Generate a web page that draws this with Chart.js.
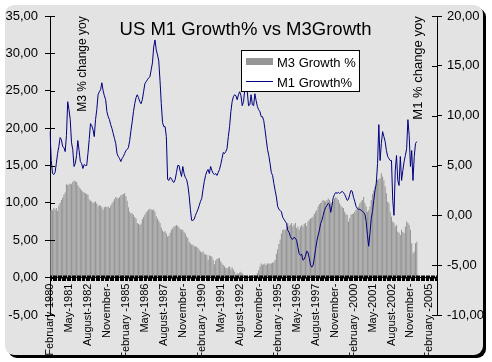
<!DOCTYPE html>
<html>
<head>
<meta charset="utf-8">
<script src="https://cdn.jsdelivr.net/npm/chart.js@4.4.1/dist/chart.umd.min.js"></script>
<style>
  html, body { margin: 0; padding: 0; background: #fff; }
  canvas { display: block; }
</style>
</head>
<body>
<canvas id="chart" width="492" height="362"></canvas>
<script>
const MONTH_NAMES = ['January', 'February', 'March', 'April', 'May', 'June', 'July',
  'August', 'September', 'October', 'November', 'December'];

// monthly categories, February 1980 .. August 2005
const categories = [];
for (let k = 0; k < 307; k++) {
  categories.push(MONTH_NAMES[(1 + k) % 12] + '-' + (1980 + Math.floor((1 + k) / 12)));
}

// one label every 15 months
const tickLabels = [
  'February-1980', 'May-1981', 'August-1982', 'November-', 'February -1985',
  'May-1986', 'August-1987', 'November-', 'February -1990', 'May-1991',
  'August-1992', 'November-', 'February -1995', 'May-1996', 'August-1997',
  'November-', 'February -2000', 'May-2001', 'August-2002', 'November-',
  'February -2005'
];

// M3 growth %, left axis
const m3Growth = [
  9.0, 9.1, 9.0, 9.3, 9.1, 9.3, 8.9, 9.6, 10.0, 10.4,
  10.7, 11.1, 11.4, 12.5, 12.4, 12.5, 12.6, 12.5, 12.8, 13.0,
  12.9, 12.8, 12.4, 12.1, 11.9, 11.7, 11.5, 11.4, 11.3, 11.2,
  11.1, 10.5, 10.3, 10.2, 10.0, 10.1, 10.2, 9.9, 9.5, 9.7,
  9.6, 9.4, 9.1, 9.4, 9.5, 9.4, 9.5, 9.3, 9.6, 9.9,
  10.2, 10.5, 10.8, 10.7, 10.6, 10.8, 11.0, 11.1, 11.2, 11.3,
  10.9, 10.3, 9.4, 8.8, 8.6, 8.6, 8.4, 8.1, 7.9, 7.3,
  7.2, 7.05, 7.2, 7.8, 8.1, 8.4, 8.7, 8.9, 9.1, 9.2,
  9.1, 9.05, 9.1, 8.8, 8.2, 7.9, 7.6, 7.3, 6.7, 6.3,
  6.1, 6.2, 5.9, 5.5, 5.6, 6.0, 6.4, 6.6, 6.8, 6.9,
  7.05, 6.9, 6.7, 6.5, 6.4, 6.4, 6.1, 5.9, 5.5, 5.3,
  4.8, 4.6, 4.4, 4.4, 4.2, 4.2, 4.1, 3.95, 3.7, 3.5,
  3.35, 3.5, 3.2, 3.1, 3.05, 2.4, 3.0, 2.9, 2.8, 2.4,
  1.8, 2.3, 2.5, 2.6, 2.6, 2.2, 1.9, 1.7, 1.5, 1.3,
  1.25, 1.4, 1.5, 1.1, 1.4, 1.1, 0.8, 0.4, 0.6, 0.5,
  0.7, 0.8, 0.6, 0.35, 0.15, -0.3, 0.1, 0.15, -0.05, 0.25,
  0.3, 0.35, 0.35, 0.25, 0.6, 1.0, 1.5, 1.9, 1.7, 1.8,
  1.9, 1.7, 1.9, 1.9, 1.9, 1.9, 2.0, 2.1, 2.35, 3.2,
  3.8, 4.5, 5.1, 5.9, 6.4, 6.4, 6.4, 6.85, 7.3, 6.9,
  7.1, 7.3, 6.85, 7.1, 7.3, 6.6, 6.85, 6.4, 6.8, 7.05,
  6.85, 7.2, 7.3, 6.9, 7.5, 7.75, 7.9, 8.0, 8.15, 8.5,
  8.8, 9.05, 9.5, 9.8, 10.0, 10.2, 10.4, 10.3, 10.2, 10.4,
  10.6, 10.4, 10.1, 9.95, 10.2, 10.6, 10.8, 10.6, 10.4, 9.95,
  9.6, 9.4, 9.3, 8.8, 8.5, 8.4, 7.5, 7.95, 8.4, 8.5,
  8.6, 8.8, 9.1, 9.3, 9.5, 9.95, 10.2, 10.4, 10.8, 9.95,
  9.5, 8.8, 9.0, 9.5, 10.4, 11.2, 11.7, 12.2, 12.85, 13.05,
  13.2, 13.3, 13.95, 13.5, 13.0, 12.2, 11.3, 10.2, 9.95, 8.8,
  8.15, 7.5, 7.3, 6.85, 7.05, 6.15, 6.0, 5.7, 6.4, 6.1,
  5.95, 6.8, 7.5, 7.3, 7.05, 6.4, 4.6, 3.25, 3.5, 4.6,
  4.8
];

// M1 growth %, right axis
const m1Growth = [
  8.4, 5.5, 4.2, 4.1, 4.3, 5.2, 6.2, 6.9, 7.8, 7.6,
  6.9, 6.8, 6.4, 8.0, 11.4, 10.6, 9.6, 7.3, 6.6, 4.9,
  5.2, 6.0, 7.5, 6.5, 5.4, 5.2, 4.7, 5.1, 5.0, 5.0,
  6.2, 7.6, 9.2, 9.0, 8.6, 7.9, 9.6, 10.6, 12.1, 12.4,
  12.6, 13.3, 12.5, 12.0, 11.6, 10.4, 9.9, 9.6, 9.1, 8.7,
  8.2, 7.7, 7.2, 6.2, 5.9, 5.7, 5.4, 5.7, 5.9, 6.2,
  6.5, 6.6, 6.8, 7.5, 8.5, 9.4, 10.4, 11.2, 11.8, 12.1,
  11.8, 11.4, 11.2, 11.6, 12.4, 13.2, 13.4, 13.6, 13.8, 13.9,
  14.6, 15.3, 16.9, 17.6, 16.6, 16.1, 15.5, 13.5, 11.2, 9.3,
  8.9, 8.9, 7.9, 3.6, 3.5, 3.8, 3.7, 3.4, 3.3, 3.6,
  4.3, 5.0, 5.0, 4.4, 3.9, 4.9, 4.2, 3.8, 3.6, 3.0,
  2.0, 0.6, -0.5, -0.5, -0.4, 0.0, 0.3, 0.6, 1.0, 1.4,
  1.7, 2.6, 3.4, 4.0, 4.4, 4.6, 4.2, 4.9, 4.5, 4.2,
  4.1, 4.2, 4.0, 4.3, 4.6, 5.1, 5.7, 6.3, 6.2, 6.4,
  6.7, 7.9, 8.9, 10.4, 11.4, 11.9, 12.1, 12.0, 11.6, 12.1,
  12.4, 12.0, 11.0, 11.4, 12.6, 12.9, 12.4, 11.0, 11.1, 12.1,
  11.1, 11.0, 12.2, 11.5, 10.9, 10.6, 10.4, 9.9, 9.9, 9.5,
  8.6, 7.6, 6.6, 6.0, 5.2, 4.3, 4.0, 3.2, 2.5, 1.85,
  0.9, 0.6, 0.5, 0.35, -0.2, -0.4, -0.6, -0.8, -1.5, -1.7,
  -2.1, -2.35, -2.4, -2.2, -2.3, -2.5, -3.2, -3.85, -4.0, -3.9,
  -4.5, -4.4, -4.1, -3.6, -3.7, -4.3, -5.0, -5.2, -5.0, -4.3,
  -3.4, -2.6, -2.0, -1.5, -0.8, -0.5, 0.0, 0.5, 0.8, 1.0,
  1.2, 1.1, 0.3, 1.0, 1.8, 2.1, 2.3, 2.2, 2.3, 2.2,
  2.3, 2.4, 2.3, 2.1, 1.8, 1.5, 1.6, 2.1, 2.5, 2.4,
  1.8, 1.4, 0.9, 0.7, 0.6, 0.6, 0.5, 0.4, 0.3, 0.1,
  -0.6, -2.0, -3.1, -1.8, -0.3, 0.4, 1.5, 2.5, 3.2, 5.2,
  9.1, 5.5, 7.2, 8.4, 7.9, 7.4, 6.5, 5.9, 5.7, 5.5,
  5.5, 1.5, 0.0, 4.5, 6.0, 3.5, 3.0, 5.9, 3.5, 4.5,
  5.4, 6.0, 6.7, 9.6, 8.0, 4.9, 6.5, 3.5, 5.9, 7.2,
  7.4
];

const FONT = 'Arial, "Liberation Sans", sans-serif';
const BAR_GREY = '#969696';
const LINE_BLUE = '#000080';

const fmt = v => v.toFixed(2).replace('.', ',');

function roundRect(ctx, x, y, w, h, r) {
  ctx.beginPath();
  ctx.moveTo(x + r, y);
  ctx.arcTo(x + w, y, x + w, y + h, r);
  ctx.arcTo(x + w, y + h, x, y + h, r);
  ctx.arcTo(x, y + h, x, y, r);
  ctx.arcTo(x, y, x + w, y, r);
  ctx.closePath();
}

// grey chart panel with a dark drop shadow
const panel = {
  id: 'panel',
  beforeDraw(chart) {
    const ctx = chart.ctx;
    ctx.save();
    ctx.fillStyle = '#fff';
    ctx.fillRect(0, 0, chart.width, chart.height);
    ctx.fillStyle = '#000';
    roundRect(ctx, 8, 8, 478, 350, 9);
    ctx.fill();
    ctx.fillStyle = '#e3e3e3';
    roundRect(ctx, 5, 5, 478, 350, 9);
    ctx.fill();
    ctx.restore();
  }
};

// inner halves of the crossing tick marks, titles and the legend box
const overlay = {
  id: 'overlay',
  afterDraw(chart) {
    const ctx = chart.ctx;
    const { x, y, y1 } = chart.scales;
    const area = chart.chartArea;
    ctx.save();
    ctx.strokeStyle = '#000';
    ctx.lineWidth = 1;
    ctx.beginPath();
    y.ticks.forEach((t, i) => {
      const py = Math.round(y.getPixelForTick(i)) + 0.5;
      ctx.moveTo(area.left, py);
      ctx.lineTo(area.left + 5, py);
    });
    y1.ticks.forEach((t, i) => {
      const py = Math.round(y1.getPixelForTick(i)) + 0.5;
      ctx.moveTo(area.right - 5, py);
      ctx.lineTo(area.right, py);
    });
    const y0 = Math.round(y.getPixelForValue(0)) + 0.5;
    for (let i = 0; i < categories.length; i++) {
      const px = Math.round(x.getPixelForValue(i)) + 0.5;
      ctx.moveTo(px, y0 - 3);
      ctx.lineTo(px, y0);
    }
    ctx.stroke();

    ctx.fillStyle = '#000';
    ctx.textBaseline = 'alphabetic';
    ctx.textAlign = 'center';
    ctx.font = '18.5px ' + FONT;
    ctx.fillText('US M1 Growth% vs M3Growth', 245.5, 35);

    ctx.font = '12px ' + FONT;
    ctx.save();
    ctx.translate(86, 64);
    ctx.rotate(-Math.PI / 2);
    ctx.fillText('M3 % change yoy', 0, 0);
    ctx.restore();

    ctx.font = '13px ' + FONT;
    ctx.save();
    ctx.translate(422, 68);
    ctx.rotate(-Math.PI / 2);
    ctx.fillText('M1 % change yoy', 0, 0);
    ctx.restore();

    // legend
    ctx.fillStyle = '#fff';
    ctx.fillRect(241.5, 50.5, 118, 41);
    ctx.strokeRect(241.5, 50.5, 118, 41);
    const ds = chart.data.datasets;
    ctx.fillStyle = BAR_GREY;
    ctx.fillRect(246, 58, 27, 7);
    ctx.strokeStyle = LINE_BLUE;
    ctx.beginPath();
    ctx.moveTo(246, 81.5);
    ctx.lineTo(273, 81.5);
    ctx.stroke();
    ctx.fillStyle = '#000';
    ctx.textAlign = 'left';
    ctx.font = '13px ' + FONT;
    ctx.fillText(ds[0].label, 277, 66.5);
    ctx.fillText(ds[1].label, 277, 86.5);
    ctx.restore();
  }
};

new Chart(document.getElementById('chart'), {
  type: 'bar',
  data: {
    labels: categories,
    datasets: [
      {
        label: 'M3 Growth %',
        data: m3Growth,
        yAxisID: 'y',
        backgroundColor: BAR_GREY,
        borderWidth: 0,
        barPercentage: 0.85,
        categoryPercentage: 1,
        order: 2
      },
      {
        type: 'line',
        label: 'M1 Growth%',
        data: m1Growth,
        yAxisID: 'y1',
        borderColor: LINE_BLUE,
        borderWidth: 1,
        pointRadius: 0,
        tension: 0,
        fill: false,
        order: 1
      }
    ]
  },
  options: {
    responsive: false,
    animation: false,
    devicePixelRatio: 1,
    layout: { padding: { left: 5, right: 7, top: 16, bottom: 47 } },
    plugins: {
      legend: { display: false },
      title: { display: false },
      tooltip: { enabled: false }
    },
    scales: {
      x: {
        type: 'category',
        position: { y: 0 },
        offset: false,
        z: 1,
        grid: { display: true, drawOnChartArea: false, drawTicks: true, tickLength: 3, color: '#000' },
        border: { display: true, color: '#000', width: 1 },
        ticks: {
          autoSkip: false,
          minRotation: 90,
          maxRotation: 90,
          padding: 3,
          color: '#000',
          font: { family: FONT, size: 11 },
          callback: (v, i) => (i % 15 === 0 ? tickLabels[i / 15] : '')
        }
      },
      y: {
        position: 'left',
        min: -5,
        max: 35,
        grid: { display: true, drawOnChartArea: false, drawTicks: true, tickLength: 5, color: '#000' },
        border: { display: true, color: '#000', width: 1 },
        ticks: {
          stepSize: 5,
          padding: 7,
          color: '#000',
          font: { family: FONT, size: 13 },
          callback: v => fmt(v)
        },
        afterFit: s => { s.width = 45; }
      },
      y1: {
        position: 'right',
        min: -10,
        max: 20,
        grid: { display: true, drawOnChartArea: false, drawTicks: true, tickLength: 5, color: '#000' },
        border: { display: true, color: '#000', width: 1 },
        ticks: {
          stepSize: 5,
          padding: 5,
          color: '#000',
          font: { family: FONT, size: 13 },
          callback: v => fmt(v)
        },
        afterFit: s => { s.width = 48; }
      }
    }
  },
  plugins: [panel, overlay]
});
</script>
</body>
</html>
